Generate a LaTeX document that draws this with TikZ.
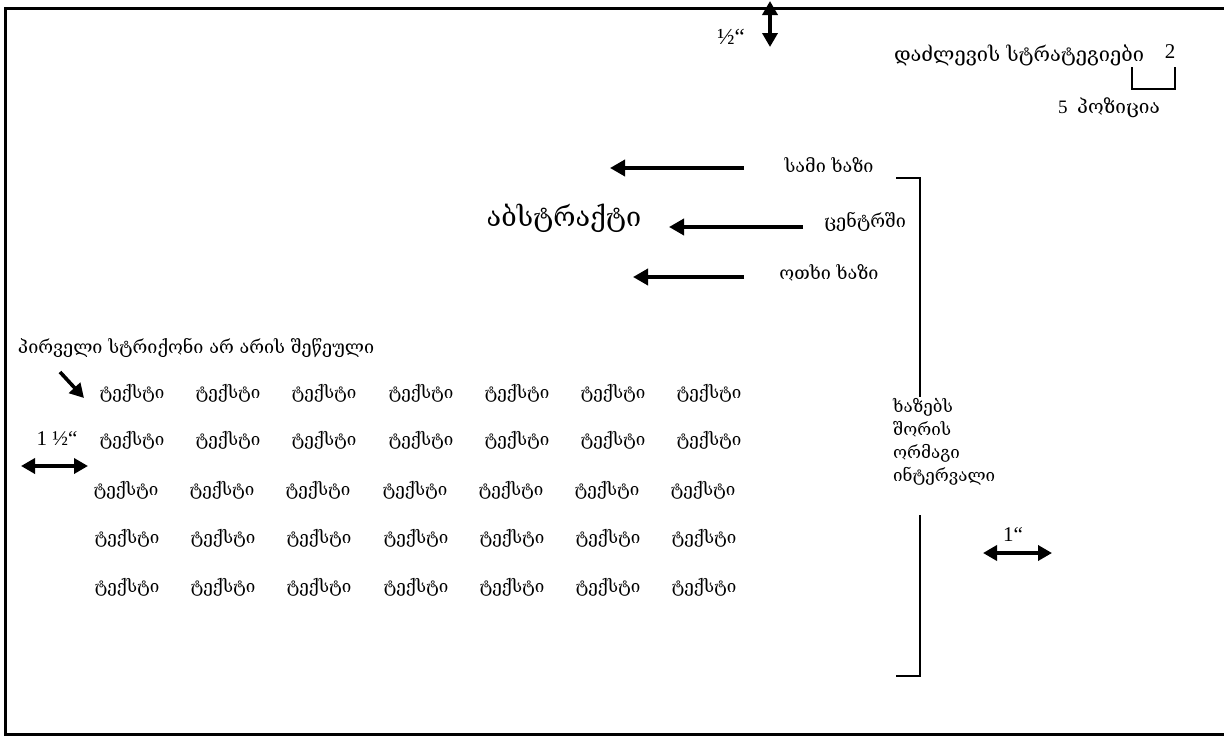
\documentclass[tikz,border=0pt]{standalone}
\usepackage{fontspec}
\setmainfont{Liberation Serif}
\newfontfamily\geo{DejaVu Serif}
\usetikzlibrary{arrows.meta}

\tikzset{
  word/.style={font=\geo\fontsize{17}{20}\selectfont, inner sep=0pt},
  label/.style={font=\geo\fontsize{18}{21}\selectfont, inner sep=0pt},
  inch/.style={font=\fontsize{21}{23}\selectfont, inner sep=0pt},
  bigarrow/.style={line width=3.6pt, -{Triangle[length=15pt,width=16pt]}},
  dblarrow/.style={line width=3.6pt, {Triangle[length=14pt,width=15pt]}-{Triangle[length=14pt,width=15pt]}},
  bracket/.style={line width=2pt},
}

\begin{document}
\begin{tikzpicture}[x=1pt,y=-1pt]
        \useasboundingbox (0,0) rectangle (1224,736);
        \draw[line width=3pt] (1240,8) -- (5,8) -- (5,734) -- (1240,734);

        % top margin
        \node[inch, font=\fontsize{23}{25}\selectfont] (half) at (731,37) {½“};
        \coordinate (topA) at (770,1);
        \coordinate (topB) at (770,47);
        \draw[dblarrow] (topA) -- (topB);

        % title and page number
        \node[word, font=\geo\fontsize{20}{22}\selectfont] (title) at (1019,55) {დაძლევის სტრატეგიები};
        \node[inch] (page) at (1170,52) {2};
        \coordinate (brA) at (1132,67);
        \coordinate (brB) at (1132,89);
        \coordinate (brC) at (1175,89);
        \coordinate (brD) at (1175,67);
        \draw[bracket] (brA) -- (brB) -- (brC) -- (brD);
        \node[label, font=\fontsize{19}{21}\selectfont] (pos) at (1109,108) {5\ \ {\geo პოზიცია}};

        % heading
        \node[word, font=\geo\fontsize{27}{30}\selectfont] (abs) at (564,218) {აბსტრაქტი};

        \node[label] (three) at (829,165) {სამი ხაზი};
        \node[label] (centre) at (865,222) {ცენტრში};
        \node[label] (four) at (829,273) {ოთხი ხაზი};

        \coordinate (a1s) at (744,168);
        \coordinate (a1e) at (610,168);
        \coordinate (a2s) at (803,227);
        \coordinate (a2e) at (669,227);
        \coordinate (a3s) at (744,277);
        \coordinate (a3e) at (633,277);
        \draw[bigarrow] (a1s) -- (a1e);
        \draw[bigarrow] (a2s) -- (a2e);
        \draw[bigarrow] (a3s) -- (a3e);

        % double spacing bracket
        \coordinate (sbA) at (896,178);
        \coordinate (sbB) at (920,178);
        \coordinate (sbC) at (920,397);
        \coordinate (sbD) at (920,515);
        \coordinate (sbE) at (920,676);
        \coordinate (sbF) at (896,676);
        \draw[bracket] (sbA) -- (sbB) -- (sbC);
        \draw[bracket] (sbD) -- (sbE) -- (sbF);
        \node[word, font=\geo\fontsize{17}{23}\selectfont, align=left, anchor=north west] (space) at (893,398)
            {ხაზებს\\შორის\\ორმაგი\\ინტერვალი};

        % right margin
        \node[inch] (one) at (1013,535) {1“};
        \coordinate (rmA) at (983,553);
        \coordinate (rmB) at (1052,553);
        \draw[dblarrow] (rmA) -- (rmB);

        % first line
        \node[label] (first) at (196,348) {პირველი სტრიქონი არ არის შეწეული};
        \coordinate (fA) at (60,372);
        \coordinate (fB) at (84,398);
        \draw[bigarrow, -{Triangle[length=14pt,width=15pt]}] (fA) -- (fB);

        % left margin
        \node[inch] (oneh) at (57,439) {1 ½“};
        \coordinate (lmA) at (21,466);
        \coordinate (lmB) at (88,466);
        \draw[dblarrow] (lmA) -- (lmB);

        % body text
        \node[word] (t11) at (132,393) {ტექსტი};
        \node[word] (t12) at (228,393) {ტექსტი};
        \node[word] (t13) at (324,393) {ტექსტი};
        \node[word] (t14) at (421,393) {ტექსტი};
        \node[word] (t15) at (517,393) {ტექსტი};
        \node[word] (t16) at (613,393) {ტექსტი};
        \node[word] (t17) at (709,393) {ტექსტი};

        \node[word] (t21) at (132,440) {ტექსტი};
        \node[word] (t22) at (228,440) {ტექსტი};
        \node[word] (t23) at (324,440) {ტექსტი};
        \node[word] (t24) at (421,440) {ტექსტი};
        \node[word] (t25) at (517,440) {ტექსტი};
        \node[word] (t26) at (613,440) {ტექსტი};
        \node[word] (t27) at (709,440) {ტექსტი};

        \node[word] (t31) at (126,490) {ტექსტი};
        \node[word] (t32) at (222,490) {ტექსტი};
        \node[word] (t33) at (318,490) {ტექსტი};
        \node[word] (t34) at (415,490) {ტექსტი};
        \node[word] (t35) at (511,490) {ტექსტი};
        \node[word] (t36) at (607,490) {ტექსტი};
        \node[word] (t37) at (703,490) {ტექსტი};

        \node[word] (t41) at (127,538) {ტექსტი};
        \node[word] (t42) at (223,538) {ტექსტი};
        \node[word] (t43) at (319,538) {ტექსტი};
        \node[word] (t44) at (416,538) {ტექსტი};
        \node[word] (t45) at (512,538) {ტექსტი};
        \node[word] (t46) at (608,538) {ტექსტი};
        \node[word] (t47) at (704,538) {ტექსტი};

        \node[word] (t51) at (127,587) {ტექსტი};
        \node[word] (t52) at (223,587) {ტექსტი};
        \node[word] (t53) at (319,587) {ტექსტი};
        \node[word] (t54) at (416,587) {ტექსტი};
        \node[word] (t55) at (512,587) {ტექსტი};
        \node[word] (t56) at (608,587) {ტექსტი};
        \node[word] (t57) at (704,587) {ტექსტი};
    \end{tikzpicture}
\end{document}
